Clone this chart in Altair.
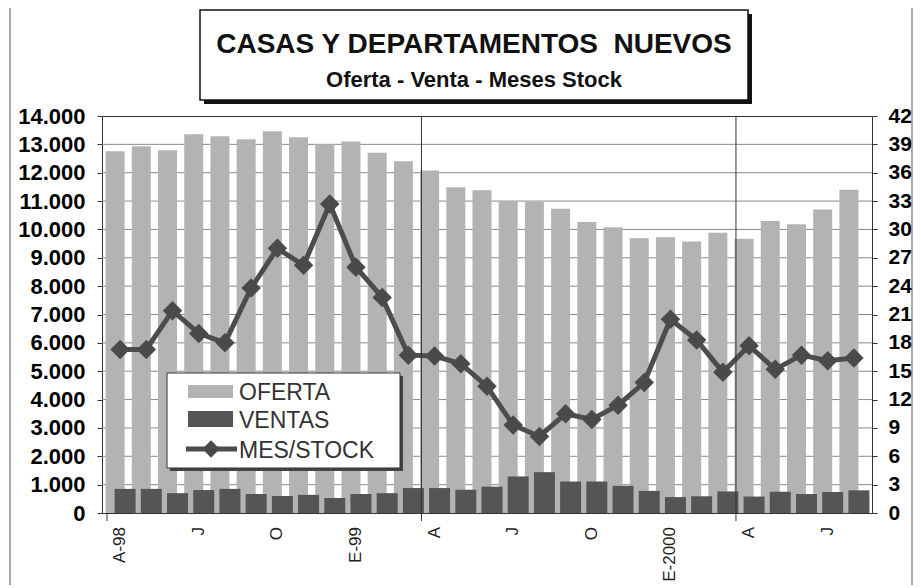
import json
import altair as alt
import pandas as pd

# ---------------- data ----------------
month_index = list(range(29))  # Apr-1998 .. Aug-2000
tick_labels = ["A-98", "J", "O", "E-99", "A", "J", "O", "E-2000", "A", "J"]
tick_positions = list(range(0, 29, 3))
oferta = [12760, 12930, 12790, 13360, 13290, 13180, 13460, 13250, 13000, 13100,
          12700, 12400, 12080, 11490, 11380, 10990, 10980, 10730, 10260, 10080,
          9690, 9720, 9570, 9880, 9670, 10300, 10180, 10700, 11400]
ventas = [850, 850, 700, 810, 850, 670, 600, 640, 530, 670,
          700, 880, 880, 820, 930, 1290, 1440, 1110, 1110, 960,
          780, 560, 590, 760, 580, 750, 670, 740, 800]
mes_stock = [17.3, 17.3, 21.4, 19.0, 18.0, 23.8, 28.0, 26.2, 32.7, 26.0,
             22.8, 16.7, 16.6, 15.8, 13.4, 9.3, 8.1, 10.5, 9.9, 11.4,
             13.8, 20.5, 18.3, 14.9, 17.7, 15.2, 16.7, 16.1, 16.4]
left_ticks = list(range(0, 14001, 1000))
right_ticks = list(range(0, 43, 3))
year_grid = [11.5, 23.5]
start_tick = [-0.5]
legend_labels = ["OFERTA", "VENTAS", "MES/STOCK"]
title_main = "CASAS Y DEPARTAMENTOS\u00a0 NUEVOS"
title_sub = "Oferta - Venta - Meses Stock"

df = pd.DataFrame({"i": month_index, "oferta": oferta, "ventas": ventas,
                   "stock": mes_stock})
ticks_df = pd.DataFrame({"pos": tick_positions, "lab": tick_labels})
grid_df = pd.DataFrame({"g": left_ticks[1:-1]})
one = pd.DataFrame({"k": [0]})

W, H = 770, 397
FONT = "Liberation Sans"

xscale = alt.Scale(domain=[-0.5, 28.5], nice=False, zero=False)
x_plain = alt.X("i:Q", scale=xscale, axis=None)

yleft = alt.Scale(domain=[0, 14000], nice=False)
yright = alt.Scale(domain=[0, 42], nice=False)

oferta_bar = alt.Chart(df).mark_bar(size=19, xOffset=-5, color="#b3b3b3").encode(
    x=x_plain,
    y=alt.Y("oferta:Q", scale=yleft, title=None,
            axis=alt.Axis(orient="left", values=left_ticks,
                          labelExpr="replace(format(datum.value, ','), ',', '.')",
                          labelFontSize=22, labelFontWeight="bold", labelFont=FONT,
                          labelColor="#000", tickSize=5, labelPadding=12,
                          grid=False, domainColor="#333", tickColor="#333")),
)

# horizontal gridlines (every 1000 on the left axis), behind the bars
hgrid = alt.Chart(grid_df).mark_rule(color="#8a8a8a", strokeWidth=1).encode(
    y=alt.Y("g:Q", scale=yleft, axis=None),
    x=alt.value(0), x2=alt.value(W))

ventas_bar = alt.Chart(df).mark_bar(size=21, xOffset=5, color="#555555").encode(
    x=x_plain,
    y=alt.Y("ventas:Q", scale=yleft, axis=None),
)

line = alt.Chart(df).mark_line(color="#4d4d4d", strokeWidth=5).encode(
    x=x_plain,
    y=alt.Y("stock:Q", scale=yright, title=None,
            axis=alt.Axis(orient="right", values=right_ticks,
                          labelFontSize=21, labelFontWeight="bold", labelFont=FONT,
                          labelColor="#000", tickSize=5, labelPadding=11,
                          grid=False, domain=False, tickColor="#333")),
)
pts = alt.Chart(df).mark_point(shape="diamond", filled=True, size=380,
                               color="#4a4a4a", opacity=1).encode(
    x=x_plain,
    y=alt.Y("stock:Q", scale=yright, axis=None),
)

# category-axis labels (rotated) and year separators
xlabels = alt.Chart(ticks_df).mark_text(
    angle=270, align="right", baseline="middle", fontSize=17, font=FONT,
    color="#222").encode(
    x=alt.X("pos:Q", scale=xscale, axis=None),
    y=alt.value(H + 14), text="lab:N")
grid_rules = alt.Chart(pd.DataFrame({"p": year_grid})).mark_rule(
    color="#333", strokeWidth=1).encode(
    x=alt.X("p:Q", scale=xscale, axis=None),
    y=alt.value(0), y2=alt.value(H + 8))
tick_rule = alt.Chart(pd.DataFrame({"p": start_tick})).mark_rule(
    color="#333", strokeWidth=1).encode(
    x=alt.X("p:Q", scale=xscale, axis=None),
    y=alt.value(H), y2=alt.value(H + 8))

# ---- decorations: page border, title box, legend ----
border = alt.Chart(one).mark_rect(fill=None, stroke="#555", strokeWidth=1).encode(
    x=alt.value(-92), x2=alt.value(810), y=alt.value(-112), y2=alt.value(474))

tb_shadow = alt.Chart(one).mark_rect(color="#111").encode(
    x=alt.value(102), x2=alt.value(650), y=alt.value(-102), y2=alt.value(-12))
tb_box = alt.Chart(one).mark_rect(fill="white", stroke="#111", strokeWidth=1.5).encode(
    x=alt.value(98), x2=alt.value(646), y=alt.value(-106), y2=alt.value(-16))
t1 = alt.Chart(one).mark_text(fontSize=28, fontWeight="bold", font=FONT,
                              color="#111", baseline="alphabetic").encode(
    x=alt.value(372), y=alt.value(-63), text=alt.value(title_main))
t2 = alt.Chart(one).mark_text(fontSize=22, fontWeight="bold", font=FONT,
                              color="#111", baseline="alphabetic").encode(
    x=alt.value(372), y=alt.value(-29), text=alt.value(title_sub))

lg_shadow = alt.Chart(one).mark_rect(color="#444").encode(
    x=alt.value(68), x2=alt.value(301), y=alt.value(260), y2=alt.value(355))
lg_box = alt.Chart(one).mark_rect(fill="white", stroke="#333", strokeWidth=1).encode(
    x=alt.value(65), x2=alt.value(298), y=alt.value(257), y2=alt.value(352))
sw1 = alt.Chart(one).mark_rect(color="#b3b3b3").encode(
    x=alt.value(86), x2=alt.value(131), y=alt.value(269), y2=alt.value(282))
sw2 = alt.Chart(one).mark_rect(color="#555555").encode(
    x=alt.value(86), x2=alt.value(131), y=alt.value(295), y2=alt.value(311))
sw3 = alt.Chart(one).mark_rule(color="#4d4d4d", strokeWidth=5).encode(
    x=alt.value(84), x2=alt.value(135), y=alt.value(333))
sw3d = alt.Chart(one).mark_point(shape="diamond", filled=True, size=300,
                                 color="#4a4a4a", opacity=1).encode(
    x=alt.value(109), y=alt.value(333))
lt = [alt.Chart(one).mark_text(fontSize=23, font=FONT, color="#333",
                               align="left", baseline="middle").encode(
    x=alt.value(137), y=alt.value(yy), text=alt.value(lab))
    for lab, yy in zip(legend_labels, [277, 305, 335])]

chart = alt.layer(
    hgrid, oferta_bar, ventas_bar, line, pts, xlabels, grid_rules, tick_rule, border,
    tb_shadow, tb_box, t1, t2,
    lg_shadow, lg_box, sw1, sw2, sw3, sw3d, *lt
).resolve_scale(y="independent").properties(
    width=W, height=H,
    padding={"left": 94, "top": 108, "right": 41, "bottom": 72},
    autosize=alt.AutoSizeParams(type="none"),
    background="white",
).configure_view(stroke="#333", strokeWidth=1)

chart.save("out.html", embed_options={"renderer": "svg", "actions": False})
